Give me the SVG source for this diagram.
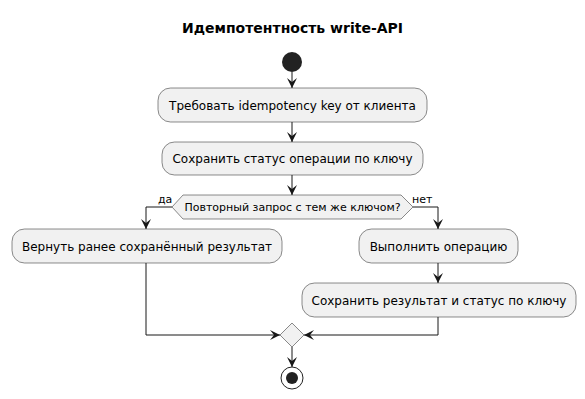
<svg xmlns="http://www.w3.org/2000/svg" width="585" height="399" viewBox="0 0 585 399">
<defs>
<marker id="arr" markerUnits="userSpaceOnUse" markerWidth="10" markerHeight="10" refX="10" refY="5" orient="auto" viewBox="0 0 10 10">
<path d="M0,0 L10,5 L0,10 L4,5 Z" fill="#181818"/>
</marker>
</defs>
<style>
.box{fill:#F1F1F1;stroke:#181818;stroke-width:0.5}
.t{font-family:"DejaVu Sans",sans-serif;font-size:12px;fill:#000;text-anchor:middle}
.s{font-family:"DejaVu Sans",sans-serif;font-size:11px;fill:#000}
.ln{fill:none;stroke:#181818;stroke-width:1}
.la{fill:none;stroke:#181818;stroke-width:1;marker-end:url(#arr)}
</style>
<rect width="585" height="399" fill="#FFFFFF"/>
<text x="292.5" y="33" style="font-family:'DejaVu Sans',sans-serif;font-size:14px;font-weight:bold;text-anchor:middle">Идемпотентность write-API</text>

<g id="start"><circle cx="292" cy="62" r="10" fill="#222222"/></g>

<g id="n1"><rect class="box" x="158" y="88" width="269" height="34" rx="12.5"/><text class="t" x="292.5" y="110">Требовать idempotency key от клиента</text></g>
<g id="n2"><rect class="box" x="162" y="142" width="261" height="33" rx="12.5"/><text class="t" x="292.5" y="163">Сохранить статус операции по ключу</text></g>
<g id="d1"><polygon class="box" points="172,207 183,195 401,195 413,207 401,219 183,219"/><text class="s" x="292.5" y="211" style="text-anchor:middle">Повторный запрос с тем же ключом?</text></g>
<g id="n3"><rect class="box" x="12" y="229" width="270" height="34" rx="12.5"/><text class="t" x="147" y="251">Вернуть ранее сохранённый результат</text></g>
<g id="n4"><rect class="box" x="359" y="229" width="159" height="34" rx="12.5"/><text class="t" x="438.5" y="251">Выполнить операцию</text></g>
<g id="n5"><rect class="box" x="302" y="283" width="274" height="34" rx="12.5"/><text class="t" x="439" y="305">Сохранить результат и статус по ключу</text></g>
<g id="merge"><polygon class="box" points="292,323 304,335 292,347 280,335"/></g>
<g id="end"><circle cx="292" cy="378" r="11" fill="none" stroke="#222222" stroke-width="1"/><circle cx="292" cy="378" r="6" fill="#222222"/></g>

<g id="connectors">
<line class="la" x1="292" y1="72" x2="292" y2="88"/>
<line class="la" x1="292" y1="122" x2="292" y2="142"/>
<line class="la" x1="292" y1="175" x2="292" y2="195"/>
<polyline class="la" points="172,207 146,207 146,229"/>
<polyline class="la" points="413,207 438,207 438,229"/>
<line class="la" x1="438" y1="263" x2="438" y2="283"/>
<polyline class="la" points="146,263 146,335 280,335"/>
<polyline class="la" points="438,317 438,335 304,335"/>
<line class="la" x1="292" y1="347" x2="292" y2="367"/>
<text class="s" x="158" y="203">да</text>
<text class="s" x="412" y="203">нет</text>
</g>
</svg>
